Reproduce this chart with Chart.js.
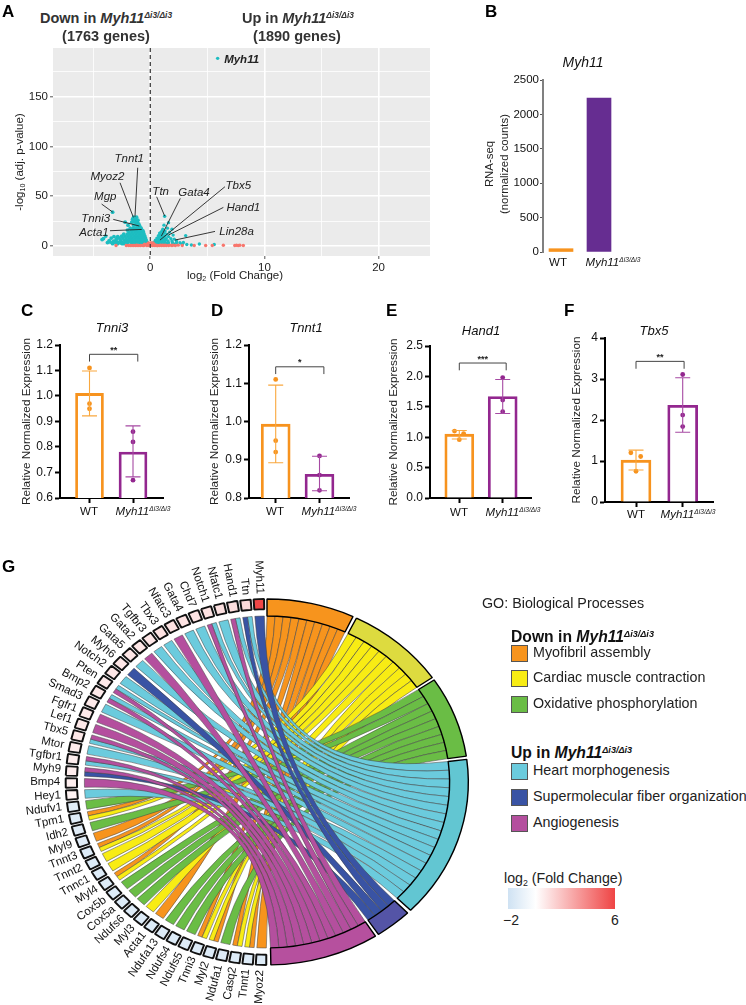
<!DOCTYPE html>
<html>
<head>
<meta charset="utf-8">
<title>Myh11 figure</title>
<script src="https://cdn.jsdelivr.net/npm/chart.js@4"></script>
<style>
  body { margin: 0; background: #fff; font-family: "Liberation Sans", Arial, sans-serif; color: #111; }
  #page { position: relative; width: 746px; height: 1005px; overflow: hidden; }
  canvas { position: absolute; }
  .t { position: absolute; white-space: nowrap; line-height: 1; }
  sup { font-size: 0.58em; vertical-align: baseline; position: relative; top: -0.55em; }
  sub { font-size: 0.62em; vertical-align: baseline; position: relative; top: 0.3em; }
  .swatch { position: absolute; width: 15px; height: 15px; border: 1px solid #555; box-sizing: content-box; }
</style>
</head>
<body>
<div id="page"></div>
<script>
// ---- panel A: volcano ----
const downFc = [-3.3,-1.45,-1.2,-1.55,-1.28,-1.08,-1.38,-1.13,-1.62,-1.0,-1.25,-2.2,-1.95,-1.45,-1.15,-.92,
  -1.76,-1.5,-1.27,-1.02,-.8,-2.0,-1.66,-1.41,-1.16,-.9,-.66,-1.87,-1.6,-1.34,-1.1,-.85,-.6,
  -2.32,-2.01,-1.77,-1.52,-1.26,-1.0,-.76,-.55,-2.5,-2.23,-1.96,-1.7,-1.44,-1.21,-.96,-.72,-.48,
  -2.72,-2.41,-2.12,-1.85,-1.62,-1.36,-1.1,-.86,-.62,-.42,-3.0,-2.62,-2.3,-2.06,-1.8,-1.55,-1.31,-1.05,-.81,-.56,-.36,
  -2.9,-2.52,-2.2,-1.95,-1.7,-1.46,-1.2,-.95,-.7,-.48,-.28,-3.3,-2.85,-2.35,-2.0,-1.6,-1.25,-.9,-.56,-.22,
  -4.1,-3.9,-4.22,-3.6,-3.42,-3.2,-3.18,-2.95,-3.1,-2.75,-2.5,-2.85,-3.5,-3.75];
const downP = [34,29,29,27,26.5,26,24.5,24,24,22,22,24,21,21,20.5,20,
  18,18,18,18,18,16,16,16,16,16,15.5,14,14,14,14,14,14,
  12,12,12,12,12,12,12,12,10,10,10,10,10,10,10,10,10,
  8,8,8,8,8,8,8,8,8,8,6,6,6,6,6,6,6,6,6,6,6,
  4,4,4,4,4,4,4,4,4,4,4,2.4,2.4,2.4,2.4,2.4,2.4,2.4,2.4,2.4,
  7.5,10,6.5,5.5,8,5,9.5,7.5,3.5,3.5,2.5,9.5,4,3.5];
const upFc = [5.9,1.26,1.6,1.2,1.9,1.5,1.1,1.3,.95,1.7,.85,1.1,1.45,2.0,.75,1,1.3,1.6,.7,.9,1.15,1.4,1.8,2.1,
  .6,.8,1,1.25,1.55,1.9,2.3,.55,.75,1,1.3,1.6,1.95,2.3,2.6,3.1,3.2,2.9,3.6,4.3,5.6,.5,.7,1.1,1.5,2.1,2.8,
  .42,.62,.85,1.2,.35,.5,.68,.92,1.15,1.42,.72,.98,1.22,.82,1.05,1.35,.95,1.18,.58,.45,.3];
const upP = [188.6,30,23.5,21,17,18,17,15,14,14,11,12,12,11,9,9.5,10,9.5,7,7,7.5,7.5,7.5,7,
  5,5,5.2,5,5.2,5,5,3.5,3.5,3.3,3.4,3.3,3.4,3.3,3.4,10.5,1.6,3.5,1,2,1.5,1.8,1.9,1.9,1.8,1.9,1.8,
  4.2,6.2,8.2,9,2.6,2.8,2.6,2.8,2.6,2.6,10.5,10.8,13,13,15.5,6.2,6.2,6.2,8,5.8,3.6];
const nsFc = [-3,-1.9,-1.75,-1.6,-1.45,-1.3,-1.15,-1,-.85,-.7,-.55,-.4,-.3,-.2,-.1,0,.1,.2,.3,.4,.5,.65,.8,1,1.2,1.4,1.6,1.9,2.2,2.8,3.85,4.85,5.43,6.4,7.4,7.55,7.7,7.85,8.15,
  -.5,-.25,.15,.35,-.15,.05,.25,-.05,-2.1,-1.2,-.6,.6,.9,1.1,1.3,1.75,2.0,2.45];
const nsP = [.6,.6,.5,.6,.5,.6,.5,.6,.6,.7,.8,1.2,.6,1,.5,.7,1.2,.6,1,.5,.8,.6,.5,.6,.5,.6,.5,.6,.6,.6,.5,.6,.5,.8,.5,.8,.6,.8,.6,
  1.8,2.2,2.4,1.6,3,3.4,3,1.8,.5,.9,.4,.4,.9,.9,.9,.9,.9,.9];
const volcanoXTicks = [-5, 0, 5, 10, 15, 20];
const volcanoYTicks = [0, 25, 50, 75, 100, 125, 150, 175];
// label, label x, label y, line start x, y, line end x, y (data units)
const volcanoNotes = [
  ['Tnnt1', -1.84, 87.7, -1.1, 78.7, -1.34, 29.4],
  ['Myoz2', -3.76, 69.3, -2.65, 63.6, -1.48, 28.8],
  ['Mgp', -3.94, 49.2, -4.26, 42.2, -3.29, 34.1],
  ['Tnni3', -4.78, 27.1, -3.24, 26.8, -.96, 20.1],
  ['Acta1', -4.93, 13.7, -3.53, 15.4, -.75, 16.7],
  ['Ttn', .91, 54.2, .56, 49.5, 1.26, 30.1],
  ['Gata4', 3.83, 53.6, 2.63, 47.9, .97, 10],
  ['Tbx5', 7.71, 61, 6.54, 59.6, .85, 6],
  ['Hand1', 8.15, 38.5, 6.4, 38.8, 1.58, 11],
  ['Lin28a', 7.56, 14, 5.67, 14.7, 2.16, 6]
];

// ---- panel B ----
const rnaCounts = [48, 2236];
const rnaTicks = [0, 500, 1000, 1500, 2000, 2500];

// ---- panels C-F ----
const tnni3Means = [1.01, 0.78];
const tnni3Low = [0.922, 0.683];
const tnni3High = [1.098, 0.883];
const tnni3Wt = [[0, 1.11], [0, 0.97], [0, 0.95]];
const tnni3Mut = [[1, 0.86], [1, 0.82], [1, 0.67]];
const tnni3Ticks = [0.6, 0.7, 0.8, 0.9, 1.0, 1.1, 1.2];

const tnnt1Means = [0.993, 0.862];
const tnnt1Low = [0.892, 0.819];
const tnnt1High = [1.095, 0.909];
const tnnt1Wt = [[0, 1.11], [0, 0.95], [0, 0.92]];
const tnnt1Mut = [[1, 0.91], [1, 0.86], [1, 0.82]];
const tnnt1Ticks = [0.8, 0.9, 1.0, 1.1, 1.2];

const hand1Means = [1.05, 1.67];
const hand1Low = [0.97, 1.39];
const hand1High = [1.11, 1.95];
const hand1Wt = [[-0.11, 1.10], [0.1, 1.06], [0, 0.96]];
const hand1Mut = [[1, 1.98], [1, 1.61], [1, 1.42]];
const hand1Ticks = [0, 0.5, 1.0, 1.5, 2.0, 2.5];

const tbx5Means = [1.02, 2.36];
const tbx5Low = [0.78, 1.70];
const tbx5High = [1.265, 3.03];
const tbx5Wt = [[-0.11, 1.2], [0.1, 1.11], [0, 0.75]];
const tbx5Mut = [[1, 3.11], [1, 2.12], [1, 1.84]];
const tbx5Ticks = [0, 1, 2, 3, 4];

// ---- panel G: chord ----
const termNames = ['Myofibril assembly', 'Cardiac muscle contraction', 'Oxidative phosphorylation',
  'Heart morphogenesis', 'Supermolecular fiber organization', 'Angiogenesis'];
const termKeys = ['O', 'Y', 'G', 'T', 'B', 'P'];
const termSpans = [25.3, 28.8, 25.8, 51.6, 10.7, 31.5];   // degrees of the ring
const termGaps = [1.1, 0.9, 1.0, 1.2, 1.0];
const termRing = ['#F7941D', '#DDDB3F', '#6ABD45', '#62C6D2', '#5454A6', '#B6509E'];
const termRibbon = ['#F7941D', '#F8EC14', '#6ABD45', '#6BCBDD', '#3953A4', '#B44F9E'];
const genes = ['Myoz2','Tnnt1','Casq2','Ndufa1','Myl2','Tnni3','Ndufs5','Ndufs4','Ndufa13','Acta1','Myl3','Ndufs6',
  'Cox5a','Cox5b','Myl4','Tnnc1','Tnnt2','Tnnt3','Myl9','Idh2','Tpm1','Ndufv1','Hey1','Bmp4','Myh9','Tgfbr1','Mtor',
  'Tbx5','Lef1','Fgfr1','Smad3','Bmp2','Pten','Notch2','Myh6','Gata5','Gata2','Tgfbr3','Tbx3','Nfatc3','Gata4','Chd7',
  'Notch1','Nfatc1','Hand1','Ttn','Myh11'];
const geneTerms = ['O','OY','YO','G','OY','YO','G','G','G','O','Y','G',
  'G','G','YO','Y','Y','YO','O','G','YO','G','T','P','BP','TP','T',
  'TP','P','P','T','PT','PT','T','B','T','P','T','T','P','T','T',
  'PT','T','PT','BT','B'];
const geneFold = [-1.4,-1.4,-1.4,-1.4,-1.4,-1.4,-1.4,-1.4,-1.4,-1.4,-1.4,-1.4,
  -1.4,-1.4,-1.4,-1.4,-1.4,-1.4,-1.3,-1.3,-1.3,-1.2,0.4,0.5,0.6,0.6,0.6,
  0.7,0.7,0.7,0.7,0.7,0.7,0.8,0.8,0.8,0.8,0.8,0.9,0.9,0.9,0.9,
  0.9,1.0,1.1,1.2,5.9];

const ORANGE = '#F7931E', PURPLE = '#93278F';
Chart.defaults.animation = false;
Chart.defaults.font.family = '"Liberation Sans", Arial, sans-serif';
Chart.defaults.plugins.legend.display = false;
Chart.defaults.plugins.tooltip.enabled = false;

const page = document.getElementById('page');
const M = { l: 52, t: 18, r: 18, b: 22 };   // margins of a canvas around its plot area

function addCanvas(x, y, w, h) {
  const c = document.createElement('canvas');
  c.width = w;
  c.height = h;
  c.style.left = x + 'px';
  c.style.top = y + 'px';
  page.appendChild(c);
  return c;
}

function plotCanvas(box) {
  return addCanvas(box[0] - M.l, box[1] - M.t, box[2] - box[0] + M.l + M.r, box[3] - box[1] + M.t + M.b);
}

// anchor: l = left, otherwise centred
function text(html, x, y, size, opts) {
  opts = opts || {};
  const d = document.createElement('div');
  d.className = 't';
  d.innerHTML = html;
  d.style.left = x + 'px';
  d.style.top = y + 'px';
  d.style.fontSize = size + 'px';
  if (opts.bold) d.style.fontWeight = 'bold';
  if (opts.italic) d.style.fontStyle = 'italic';
  if (opts.color) d.style.color = opts.color;
  const shift = opts.anchor === 'l' ? '0' : '-50%';
  d.style.transform = `translate(${shift},-50%)` + (opts.rotate ? ` rotate(${opts.rotate}deg)` : '');
  page.appendChild(d);
  return d;
}

const MUT = '<i>Myh11<sup>Δi3/Δi3</sup></i>';

// ---------- A ----------
const volcanoBox = [53, 48, 430, 256];
const volcanoLayer = {
  id: 'volcanoLayer',
  beforeDraw(chart) {
    const { ctx, chartArea: a } = chart;
    ctx.fillStyle = '#EBEBEB';
    ctx.fillRect(a.left, a.top, a.right - a.left, a.bottom - a.top);
  },
  afterDatasetsDraw(chart) {
    const { ctx, chartArea: a, scales: { x, y } } = chart;
    ctx.save();
    ctx.strokeStyle = '#333';
    ctx.lineWidth = 1.2;
    ctx.setLineDash([4, 3]);
    ctx.beginPath();
    ctx.moveTo(x.getPixelForValue(0), a.top);
    ctx.lineTo(x.getPixelForValue(0), a.bottom);
    ctx.stroke();
    ctx.setLineDash([]);
    ctx.lineWidth = 0.9;
    ctx.strokeStyle = '#222';
    ctx.fillStyle = '#222';
    ctx.font = 'italic 11.5px "Liberation Sans"';
    ctx.textAlign = 'center';
    ctx.textBaseline = 'middle';
    volcanoNotes.forEach(n => {
      ctx.beginPath();
      ctx.moveTo(x.getPixelForValue(n[3]), y.getPixelForValue(n[4]));
      ctx.lineTo(x.getPixelForValue(n[5]), y.getPixelForValue(n[6]));
      ctx.stroke();
      ctx.fillText(n[0], x.getPixelForValue(n[1]), y.getPixelForValue(n[2]));
    });
    ctx.font = 'italic bold 11.5px "Liberation Sans"';
    ctx.fillText('Myh11', x.getPixelForValue(8.0), y.getPixelForValue(187));
    ctx.restore();
  }
};

new Chart(plotCanvas(volcanoBox), {
  type: 'scatter',
  data: {
    datasets: [
      { data: nsFc.map((v, i) => ({ x: v, y: nsP[i] })), backgroundColor: '#F8766D', pointRadius: 1.7, borderWidth: 0 },
      { data: upFc.map((v, i) => ({ x: v, y: upP[i] })), backgroundColor: '#1DBDC1', pointRadius: 1.7, borderWidth: 0 },
      { data: downFc.map((v, i) => ({ x: v, y: downP[i] })), backgroundColor: '#1DBDC1', pointRadius: 1.9, borderWidth: 0 }
    ]
  },
  options: {
    responsive: false,
    maintainAspectRatio: false,
    layout: { padding: { top: M.t, right: M.r } },
    scales: {
      x: {
        min: -8.52, max: 24.5,
        afterBuildTicks: s => { s.ticks = volcanoXTicks.map(v => ({ value: v })); },
        afterFit: s => { s.height = M.b; },
        border: { display: false },
        grid: {
          color: '#fff',
          lineWidth: c => (c.tick && c.tick.value % 10 === 0 ? 1.6 : 0.8),
          tickColor: c => (c.tick && c.tick.value % 10 === 0 ? '#555' : 'transparent'),
          tickWidth: 1, tickLength: 3
        },
        ticks: {
          color: '#222', font: { size: 11.5 }, padding: 2, maxRotation: 0, autoSkip: false,
          callback: v => (v % 10 === 0 ? v : '')
        }
      },
      y: {
        min: -10, max: 199,
        afterBuildTicks: s => { s.ticks = volcanoYTicks.map(v => ({ value: v })); },
        afterFit: s => { s.width = M.l; },
        border: { display: false },
        grid: {
          color: '#fff',
          lineWidth: c => (c.tick && c.tick.value % 50 === 0 ? 1.6 : 0.8),
          tickColor: c => (c.tick && c.tick.value % 50 === 0 ? '#555' : 'transparent'),
          tickWidth: 1, tickLength: 3
        },
        ticks: {
          color: '#222', font: { size: 11.5 }, padding: 2, autoSkip: false,
          callback: v => (v % 50 === 0 ? v : '')
        }
      }
    }
  },
  plugins: [volcanoLayer]
});

text('Down in <i>Myh11<sup>Δi3/Δi3</sup></i>', 106, 18, 14.5, { bold: true, color: '#333' });
text('(1763 genes)', 106, 36, 14.5, { bold: true, color: '#333' });
text('Up in <i>Myh11<sup>Δi3/Δi3</sup></i>', 298, 18, 14.5, { bold: true, color: '#333' });
text('(1890 genes)', 297, 36, 14.5, { bold: true, color: '#333' });
text('-log<sub>10</sub> (adj. p-value)', 20, 162, 11.5, { rotate: -90, color: '#222' });
text('log<sub>2</sub> (Fold Change)', 235, 276, 11.5, { color: '#222' });

// ---------- B ----------
const rnaBox = [543, 80, 620, 252];
const rnaA = 561, rnaB = 599;
new Chart(plotCanvas(rnaBox), {
  type: 'bar',
  data: {
    datasets: [{
      data: rnaCounts.map((v, i) => ({ x: i, y: v })),
      backgroundColor: [ORANGE, '#662D91'],
      barThickness: 24
    }]
  },
  options: {
    responsive: false,
    maintainAspectRatio: false,
    layout: { padding: { top: M.t, right: M.r, bottom: M.b } },
    scales: {
      x: {
        type: 'linear', display: false, offset: false,
        min: (rnaBox[0] - rnaA) / (rnaB - rnaA), max: (rnaBox[2] - rnaA) / (rnaB - rnaA)
      },
      y: {
        min: 0, max: 2500,
        afterBuildTicks: s => { s.ticks = rnaTicks.map(v => ({ value: v })); },
        afterFit: s => { s.width = M.l; },
        border: { display: true, color: '#808080', width: 2 },
        grid: { drawOnChartArea: false, color: '#555', tickLength: 3, tickWidth: 1 },
        ticks: { color: '#111', font: { size: 11.5 }, padding: 1, callback: v => String(v) }
      }
    }
  }
});
text('<i>Myh11</i>', 583, 62, 14);
text('RNA-seq', 490, 164, 11.4, { rotate: -90, color: '#222' });
text('(normalized counts)', 505, 164, 11.4, { rotate: -90, color: '#222' });
text('WT', 558, 263, 11.5);
text(MUT, 613, 263, 11.5);

// ---------- C-F ----------
const barLayer = {
  id: 'barLayer',
  afterDatasetsDraw(chart, args, o) {
    const { ctx, scales: { x, y } } = chart;
    ctx.save();
    [0, 1].forEach(i => {
      const px = x.getPixelForValue(i);
      const lo = y.getPixelForValue(o.low[i]), hi = y.getPixelForValue(o.high[i]);
      ctx.strokeStyle = i ? '#A64AA3' : '#F9A83F';
      ctx.lineWidth = 1.1;
      ctx.beginPath();
      ctx.moveTo(px, lo); ctx.lineTo(px, hi);
      ctx.moveTo(px - 7.5, lo); ctx.lineTo(px + 7.5, lo);
      ctx.moveTo(px - 7.5, hi); ctx.lineTo(px + 7.5, hi);
      ctx.stroke();
    });
    const x0 = x.getPixelForValue(o.bracket[0]), x1 = x.getPixelForValue(o.bracket[1]);
    const top = y.getPixelForValue(o.bracket[2]), foot = y.getPixelForValue(o.bracket[3]);
    ctx.strokeStyle = '#444';
    ctx.lineWidth = 1;
    ctx.beginPath();
    ctx.moveTo(x0, foot); ctx.lineTo(x0, top); ctx.lineTo(x1, top); ctx.lineTo(x1, foot);
    ctx.stroke();
    ctx.fillStyle = '#222';
    ctx.font = 'bold 9px "Liberation Sans"';
    ctx.textAlign = 'center';
    ctx.textBaseline = 'middle';
    ctx.fillText(o.stars, (x0 + x1) / 2, top - 4);
    ctx.restore();
  }
};

function barPanel(p) {
  const box = p.box, a = p.centres[0], b = p.centres[1];
  const canvas = plotCanvas(box);
  new Chart(canvas, {
    type: 'bar',
    data: {
      datasets: [
        {
          data: p.means.map((v, i) => ({ x: i, y: v })),
          backgroundColor: '#fff', borderColor: [ORANGE, PURPLE], borderWidth: 2.8,
          barThickness: p.bar, order: 2
        },
        {
          type: 'scatter',
          data: p.wt.map(q => ({ x: q[0], y: q[1] })),
          backgroundColor: ORANGE, pointRadius: 2.4, borderWidth: 0, order: 1
        },
        {
          type: 'scatter',
          data: p.mut.map(q => ({ x: q[0], y: q[1] })),
          backgroundColor: PURPLE, pointRadius: 2.4, borderWidth: 0, order: 1
        }
      ]
    },
    options: {
      responsive: false,
      maintainAspectRatio: false,
      layout: { padding: { top: M.t, right: M.r } },
      plugins: { barLayer: { low: p.low, high: p.high, bracket: p.bracket, stars: p.stars } },
      scales: {
        x: {
          type: 'linear', offset: false,
          min: (box[0] - a) / (b - a), max: (box[2] - a) / (b - a),
          afterBuildTicks: s => { s.ticks = [{ value: 0 }, { value: 1 }]; },
          afterFit: s => { s.height = M.b; },
          border: { display: true, color: '#000', width: 2 },
          grid: { drawOnChartArea: false, offset: false, color: '#000', tickLength: 5, tickWidth: 2 },
          ticks: { display: false }
        },
        y: {
          min: p.ticks[0], max: p.ticks[p.ticks.length - 1],
          afterBuildTicks: s => { s.ticks = p.ticks.map(v => ({ value: v })); },
          afterFit: s => { s.width = M.l; },
          border: { display: true, color: '#000', width: 2 },
          grid: { drawOnChartArea: false, color: '#000', tickLength: 5, tickWidth: 2 },
          ticks: { color: '#111', font: { size: 12 }, padding: 2, callback: v => v.toFixed(p.digits) },
          title: {
            display: true, text: 'Relative Normalized Expression', color: '#222',
            font: { size: 11.8 }, padding: { top: p.labelX - (box[0] - M.l) - 7.1, bottom: 0 }
          }
        }
      }
    },
    plugins: [barLayer]
  });
  text('<i>' + p.name + '</i>', p.title[0], p.title[1], 13);
  text('WT', p.wtLabel[0], p.wtLabel[1], 11.5);
  text(MUT, p.mutLabel[0], p.mutLabel[1], 11.5);
}

barPanel({
  name: 'Tnni3', box: [60, 345, 163, 498], centres: [89.5, 133], bar: 28, digits: 1, labelX: 27,
  means: tnni3Means, low: tnni3Low, high: tnni3High, wt: tnni3Wt, mut: tnni3Mut, ticks: tnni3Ticks,
  bracket: [0, 1.11, 1.1635, 1.135], stars: '**',
  title: [112, 327], wtLabel: [89, 512], mutLabel: [143, 512]
});
barPanel({
  name: 'Tnnt1', box: [249, 345, 349, 498], centres: [275.7, 319.5], bar: 29, digits: 1, labelX: 215,
  means: tnnt1Means, low: tnnt1Low, high: tnnt1High, wt: tnnt1Wt, mut: tnnt1Mut, ticks: tnnt1Ticks,
  bracket: [0, 1.1, 1.143, 1.124], stars: '*',
  title: [306, 327], wtLabel: [275, 512], mutLabel: [329, 512]
});
barPanel({
  name: 'Hand1', box: [430, 346, 531, 498], centres: [459.3, 502.7], bar: 29, digits: 1, labelX: 394,
  means: hand1Means, low: hand1Low, high: hand1High, wt: hand1Wt, mut: hand1Mut, ticks: hand1Ticks,
  bracket: [0, 1.08, 2.22, 2.1], stars: '***',
  title: [481, 330], wtLabel: [459, 513], mutLabel: [513, 513]
});
barPanel({
  name: 'Tbx5', box: [605, 338, 713, 502], centres: [636, 682.7], bar: 30, digits: 0, labelX: 577,
  means: tbx5Means, low: tbx5Low, high: tbx5High, wt: tbx5Wt, mut: tbx5Mut, ticks: tbx5Ticks,
  bracket: [0, 1.03, 3.43, 3.25], stars: '**',
  title: [654, 330], wtLabel: [636, 515], mutLabel: [688, 515]
});

// ---------- G ----------
const CX = 267, CY = 782, STRETCH = 1.1, RIBBON_R = 166;
const chordW = 440, chordH = 400;
const chordLeft = CX - chordW / 2, chordTop = CY - chordH / 2;

function foldColour(v) {
  const to = v < 0 ? [207, 226, 243] : [239, 68, 68];
  const t = v < 0 ? Math.min(-v / 2, 1) : Math.min(v / 6, 1);
  const c = to.map(e => Math.round(255 + (e - 255) * t));
  return `rgb(${c[0]},${c[1]},${c[2]})`;
}

let geneChart;

const stretchLayer = {
  id: 'stretchLayer',
  beforeDatasetsDraw(chart) {
    const ctx = chart.ctx;
    const cx = chordW / 2, cy = chordH / 2;
    ctx.save();
    ctx.translate(cx, cy);
    ctx.scale(STRETCH, 1);
    ctx.translate(-cx, -cy);
    if (chart.options.plugins.stretchLayer.ribbons) drawRibbons(chart, cx, cy);
  },
  afterDatasetsDraw(chart) {
    chart.ctx.restore();
  }
};

function drawRibbons(chart, cx, cy) {
  const ctx = chart.ctx;
  const sectorArcs = chart.getDatasetMeta(0).data;
  const geneArcs = geneChart.getDatasetMeta(0).data;
  const count = termKeys.map(k => geneTerms.join('').split(k).length - 1);
  const used = termKeys.map(() => 0);
  const ribbons = termKeys.map(() => []);

  // top genes take the first slots of each sector, so the fan stays ordered
  for (let g = genes.length - 1; g >= 0; g--) {
    const arc = geneArcs[1 + g * 2];
    const keys = geneTerms[g].split('');
    const g0 = arc.startAngle, g1 = arc.endAngle;
    keys.forEach((k, j) => {
      const t = termKeys.indexOf(k);
      const sector = sectorArcs[t * 2];
      const slot = (sector.endAngle - sector.startAngle) / count[t];
      ribbons[t].push({
        a0: sector.startAngle + slot * used[t],
        a1: sector.startAngle + slot * (used[t] + 1),
        g0: g0 + (g1 - g0) * j / keys.length,
        g1: g0 + (g1 - g0) * (j + 1) / keys.length
      });
      used[t]++;
    });
  }

  ctx.lineWidth = 0.5;
  ctx.strokeStyle = '#444';
  ribbons.forEach((list, t) => {
    ctx.fillStyle = termRibbon[t];
    list.forEach(r => {
      ctx.beginPath();
      ctx.arc(cx, cy, RIBBON_R, r.a0, r.a1);
      ctx.quadraticCurveTo(cx, cy, cx + RIBBON_R * Math.cos(r.g0), cy + RIBBON_R * Math.sin(r.g0));
      ctx.arc(cx, cy, RIBBON_R, r.g0, r.g1);
      ctx.quadraticCurveTo(cx, cy, cx + RIBBON_R * Math.cos(r.a0), cy + RIBBON_R * Math.sin(r.a0));
      ctx.closePath();
      ctx.fill();
      ctx.stroke();
    });
  });
}

// gene squares: one slice per gene plus a see-through gap
const pitch = 180 / genes.length;
const geneSlices = [180 + pitch * 0.11];
const geneColours = ['transparent'], geneBorders = ['transparent'];
genes.forEach((g, i) => {
  geneSlices.push(pitch * 0.78, pitch * 0.22);
  geneColours.push(foldColour(geneFold[i]), 'transparent');
  geneBorders.push('#111', 'transparent');
});

geneChart = new Chart(addCanvas(chordLeft, chordTop, chordW, chordH), {
  type: 'doughnut',
  data: { datasets: [{ data: geneSlices, backgroundColor: geneColours, borderColor: geneBorders, borderWidth: 1.8, clip: false }] },
  options: {
    responsive: false, maintainAspectRatio: false,
    radius: 183, cutout: '94.4%',
    plugins: { stretchLayer: { ribbons: false } }
  },
  plugins: [stretchLayer]
});

// sector ring: term, gap, term, gap ... then the gene half left empty
const sectorSlices = [], sectorColours = [], sectorBorders = [];
termSpans.forEach((s, i) => {
  sectorSlices.push(s);
  sectorColours.push(termRing[i]);
  sectorBorders.push('#000');
  if (i < termGaps.length) {
    sectorSlices.push(termGaps[i]);
    sectorColours.push('transparent');
    sectorBorders.push('transparent');
  }
});
sectorSlices.push(360 - sectorSlices.reduce((a, b) => a + b, 0));
sectorColours.push('transparent');
sectorBorders.push('transparent');

new Chart(addCanvas(chordLeft, chordTop, chordW, chordH), {
  type: 'doughnut',
  data: { datasets: [{ data: sectorSlices, backgroundColor: sectorColours, borderColor: sectorBorders, borderWidth: 1.3, clip: false }] },
  options: {
    responsive: false, maintainAspectRatio: false,
    radius: 183, cutout: '90.7%',
    plugins: { stretchLayer: { ribbons: true } }
  },
  plugins: [stretchLayer]
});

// radial gene names, each ending at the ring
genes.forEach((g, i) => {
  const th = Math.PI + (i + 0.5) * pitch * Math.PI / 180;
  const px = CX + STRETCH * 188 * Math.sin(th), py = CY - 188 * Math.cos(th);
  const d = text(g, px, py, 11.5);
  const phi = Math.atan2(CY - py, CX - px);
  d.style.transformOrigin = '100% 50%';
  d.style.transform = `translate(-100%,-50%) rotate(${phi}rad)`;
});

// ---------- legend of G ----------
text('GO: Biological Processes', 482, 603, 14.3, { anchor: 'l', color: '#222' });
text('Down in <i>Myh11<sup>Δi3/Δi3</sup></i>', 511, 637, 15.7, { anchor: 'l', bold: true });
text('Up in <i>Myh11<sup>Δi3/Δi3</sup></i>', 511, 753, 15.7, { anchor: 'l', bold: true });
const legendRows = [653, 678, 704, 771, 797, 823];
termNames.forEach((n, i) => {
  const s = document.createElement('div');
  s.className = 'swatch';
  s.style.left = '511px';
  s.style.top = (legendRows[i] - 8) + 'px';
  s.style.background = termRibbon[i];
  page.appendChild(s);
  text(n, 533, legendRows[i] - 1, 14.3, { anchor: 'l', color: '#222' });
});
text('log<sub>2</sub> (Fold Change)', 504, 878, 14.2, { anchor: 'l', color: '#222' });
const bar = document.createElement('div');
bar.style.cssText = 'position:absolute;left:508px;top:888px;width:107px;height:21px;' +
  'background:linear-gradient(to right,#CFE2F3,#fff 26%,#EF4444)';
page.appendChild(bar);
text('−2', 511, 920, 14, { color: '#222' });
text('6', 615, 920, 14, { color: '#222' });

// ---------- panel letters ----------
[['A', 2, 11], ['B', 485, 11], ['C', 21, 310], ['D', 211, 310], ['E', 386, 310], ['F', 564, 310], ['G', 2, 566]]
  .forEach(l => text(l[0], l[1], l[2], 17, { anchor: 'l', bold: true, color: '#000' }));
</script>
</body>
</html>
